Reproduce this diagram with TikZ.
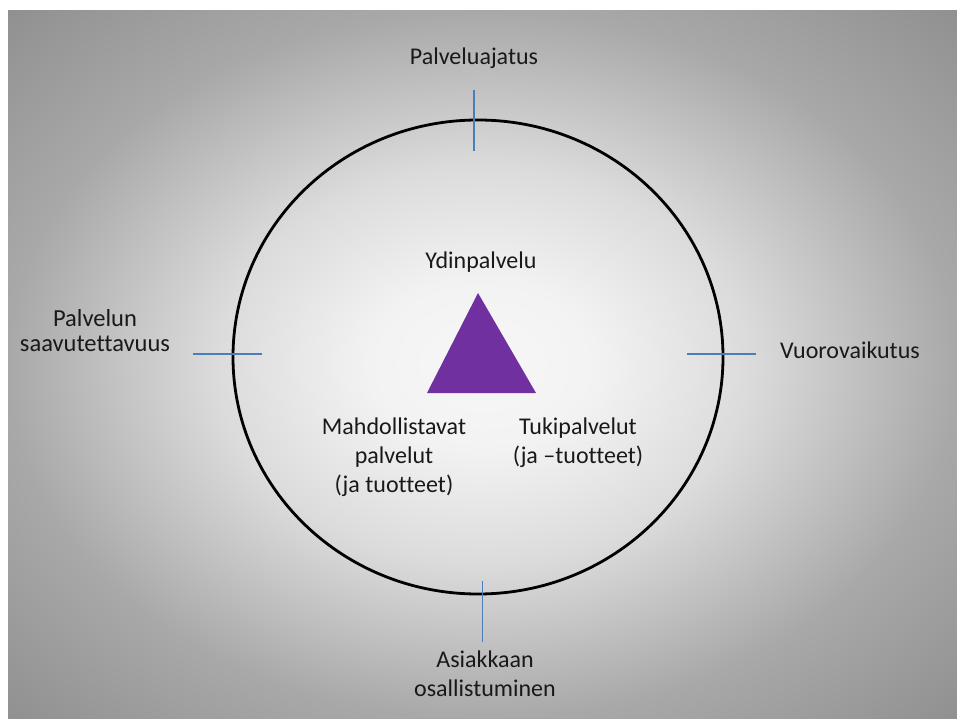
\documentclass[tikz,border=0pt]{standalone}
\usepackage{fontspec}
\setmainfont{Carlito}[Ligatures=NoCommon]
\usetikzlibrary{shapes.geometric, positioning}
\definecolor{lila}{HTML}{7030A0}
\definecolor{azul}{HTML}{4A7EBB}
\pgfdeclareradialshading{fondo}{\pgfpoint{0bp}{0bp}}{color(0bp)=(black!3); color(6bp)=(black!5); color(14bp)=(black!14); color(25bp)=(black!34); color(36bp)=(black!44); color(50bp)=(black!44)}

\begin{document}
\begin{tikzpicture}[x=1pt, y=-1pt,
    texto/.style={font=\fontsize{24}{29}\selectfont, text=black!90, inner sep=0pt, align=center},
    marca/.style={draw=azul, line width=1.5pt}]
    \useasboundingbox (0,0) rectangle (957,719);
    % Fondo con degradado
    \shade[shading=fondo] (8,11) rectangle (957,719);

    % Circulo y triangulo
    \node (anillo) [draw, ellipse, line width=2.8pt, minimum width=490, minimum height=474, inner sep=0pt] at (478,357) {};
    \fill[lila] (478,293) -- (536,393) -- (427,393) -- cycle;

    % Definir nodos de texto
    \node (ajatus) [texto, anchor=base] at (474,65) {Palveluajatus};
    \node (ydin) [texto, anchor=base] at (481,268) {Ydinpalvelu};
    \node (saavutettavuus) [texto, font=\fontsize{24.5}{25}\selectfont] at (95,331) {Palvelun\\saavutettavuus};
    \node (vuoro) [texto, anchor=base west] at (780,358) {Vuorovaikutus};
    \node (mahd) [texto] at (394,457) {Mahdollistavat\\palvelut\\(ja tuotteet)};
    \node (tuki) [texto] at (578,443) {Tukipalvelut\\(ja –tuotteet)};
    \node (osall) [texto] at (485,674) {Asiakkaan\\osallistuminen};

    % Marcas sobre el circulo
    \draw[marca] ([shift={(-4,-29)}]anillo.north) -- ([shift={(-4,32)}]anillo.north);
    \draw[marca] ([shift={(-39,-3)}]anillo.west) -- ([shift={(30,-3)}]anillo.west);
    \draw[marca] ([shift={(-37,-3)}]anillo.east) -- ([shift={(32,-3)}]anillo.east);
    \draw[marca, line width=1pt] ([shift={(4,-14)}]anillo.south) -- ([shift={(4,47)}]anillo.south);
\end{tikzpicture}
\end{document}
